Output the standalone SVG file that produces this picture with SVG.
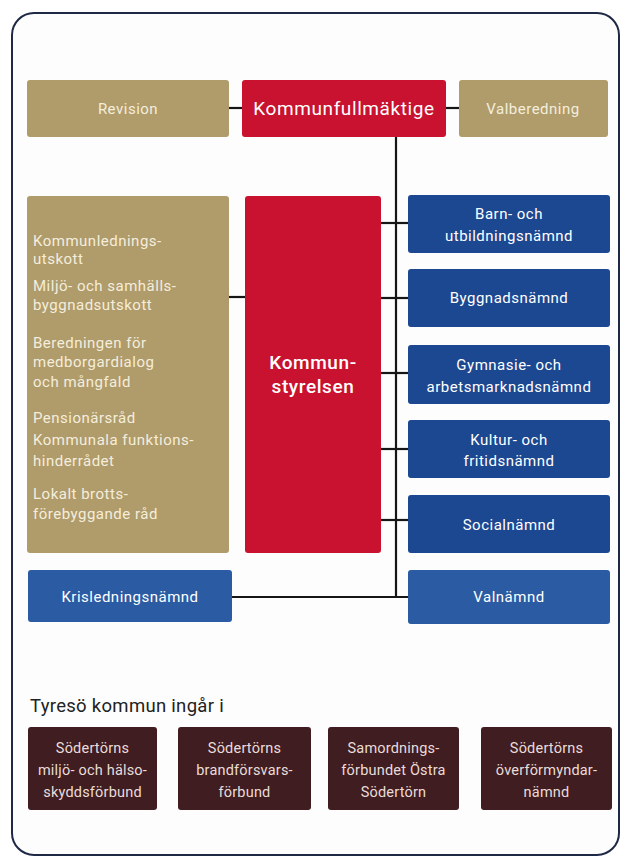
<svg xmlns="http://www.w3.org/2000/svg" width="622" height="857" viewBox="0 0 622 857">
<style>
  text { font-family: Roboto, "Liberation Sans", sans-serif; }
  .tan { fill: #b09b6b; }
  .red { fill: #c8122f; }
  .blue { fill: #1c4791; }
  .lblue { fill: #2b5ba2; }
  .maroon { fill: #3f1d21; }
  .t15 { font-size: 15px; fill: #f4eedc; letter-spacing: 0.5px; }
  .w15 { font-size: 15px; fill: #ffffff; letter-spacing: 0.5px; }
  .w19 { font-size: 19px; fill: #ffffff; letter-spacing: 0.6px; }
  .m14 { font-size: 14.5px; fill: #eadcd8; letter-spacing: 0.2px; }
  .c { text-anchor: middle; }
  .conn line { stroke: #161616; stroke-width: 2.2; }
</style>
<rect width="622" height="857" fill="#ffffff"/>
<rect x="12" y="13" width="607" height="842" rx="22" ry="22" fill="#fdfdfd" stroke="#1e2945" stroke-width="2"/>

<g id="connectors" class="conn">
  <line x1="228" y1="108" x2="243" y2="108"/>
  <line x1="446" y1="108" x2="460" y2="108"/>
  <line x1="396" y1="136" x2="396" y2="598"/>
  <line x1="228" y1="297" x2="246" y2="297"/>
  <line x1="381" y1="223" x2="410" y2="223"/>
  <line x1="381" y1="298" x2="410" y2="298"/>
  <line x1="381" y1="373" x2="410" y2="373"/>
  <line x1="381" y1="449" x2="410" y2="449"/>
  <line x1="381" y1="520" x2="410" y2="520"/>
  <line x1="231" y1="597" x2="410" y2="597"/>
</g>

<g id="revision">
  <rect class="tan" x="27" y="80" width="202" height="57" rx="3"/>
  <text class="t15 c" x="128" y="114">Revision</text>
</g>
<g id="kommunfullmaktige">
  <rect class="red" x="242" y="80" width="204" height="57" rx="3"/>
  <text class="w19 c" x="344" y="115">Kommunfullmäktige</text>
</g>
<g id="valberedning">
  <rect class="tan" x="459" y="80" width="149" height="57" rx="3"/>
  <text class="t15 c" x="533" y="114">Valberedning</text>
</g>

<g id="utskott">
  <rect class="tan" x="27" y="196" width="202" height="357" rx="3"/>
  <text class="t15" x="33">
    <tspan x="33" y="246">Kommunlednings-</tspan>
    <tspan x="33" y="264">utskott</tspan>
    <tspan x="33" y="291">Miljö- och samhälls-</tspan>
    <tspan x="33" y="310">byggnadsutskott</tspan>
    <tspan x="33" y="348">Beredningen för</tspan>
    <tspan x="33" y="367">medborgardialog</tspan>
    <tspan x="33" y="387">och mångfald</tspan>
    <tspan x="33" y="423">Pensionärsråd</tspan>
    <tspan x="33" y="445">Kommunala funktions-</tspan>
    <tspan x="33" y="466">hinderrådet</tspan>
    <tspan x="33" y="499">Lokalt brotts-</tspan>
    <tspan x="33" y="519">förebyggande råd</tspan>
  </text>
</g>

<g id="kommunstyrelsen">
  <rect class="red" x="245" y="196" width="136" height="357" rx="3"/>
  <text class="w19 c" x="313" y="369" font-weight="500">Kommun-</text>
  <text class="w19 c" x="313" y="393" font-weight="500">styrelsen</text>
</g>

<g id="barn">
  <rect class="blue" x="408" y="195" width="202" height="58" rx="3"/>
  <text class="w15 c" x="509" y="219">Barn- och</text>
  <text class="w15 c" x="509" y="241">utbildningsnämnd</text>
</g>
<g id="bygg">
  <rect class="blue" x="408" y="269" width="202" height="58" rx="3"/>
  <text class="w15 c" x="509" y="303">Byggnadsnämnd</text>
</g>
<g id="gymnasie">
  <rect class="blue" x="408" y="345" width="202" height="59" rx="3"/>
  <text class="w15 c" x="509" y="370">Gymnasie- och</text>
  <text class="w15 c" x="509" y="392">arbetsmarknadsnämnd</text>
</g>
<g id="kultur">
  <rect class="blue" x="408" y="420" width="202" height="58" rx="3"/>
  <text class="w15 c" x="509" y="445">Kultur- och</text>
  <text class="w15 c" x="509" y="466">fritidsnämnd</text>
</g>
<g id="social">
  <rect class="blue" x="408" y="495" width="202" height="58" rx="3"/>
  <text class="w15 c" x="509" y="530">Socialnämnd</text>
</g>
<g id="valnamnd">
  <rect class="lblue" x="408" y="570" width="202" height="54" rx="3"/>
  <text class="w15 c" x="509" y="602">Valnämnd</text>
</g>
<g id="krisledning">
  <rect class="lblue" x="28" y="570" width="204" height="52" rx="3"/>
  <text class="w15 c" x="130" y="602">Krisledningsnämnd</text>
</g>

<text x="30" y="712" font-size="18.5" fill="#222222" letter-spacing="0.3">Tyresö kommun ingår i</text>

<g id="miljo">
  <rect class="maroon" x="28" y="727" width="129" height="83" rx="3"/>
  <text class="m14 c" x="92.5" y="753">Södertörns</text>
  <text class="m14 c" x="92.5" y="775">miljö- och hälso-</text>
  <text class="m14 c" x="92.5" y="797">skyddsförbund</text>
</g>
<g id="brand">
  <rect class="maroon" x="178" y="727" width="133" height="83" rx="3"/>
  <text class="m14 c" x="244.5" y="753">Södertörns</text>
  <text class="m14 c" x="244.5" y="775">brandförsvars-</text>
  <text class="m14 c" x="244.5" y="797">förbund</text>
</g>
<g id="samordning">
  <rect class="maroon" x="328" y="727" width="131" height="83" rx="3"/>
  <text class="m14 c" x="393.5" y="753">Samordnings-</text>
  <text class="m14 c" x="393.5" y="775">förbundet Östra</text>
  <text class="m14 c" x="393.5" y="797">Södertörn</text>
</g>
<g id="overformyndar">
  <rect class="maroon" x="481" y="727" width="131" height="83" rx="3"/>
  <text class="m14 c" x="546.5" y="753">Södertörns</text>
  <text class="m14 c" x="546.5" y="775">överförmyndar-</text>
  <text class="m14 c" x="546.5" y="797">nämnd</text>
</g>
</svg>
